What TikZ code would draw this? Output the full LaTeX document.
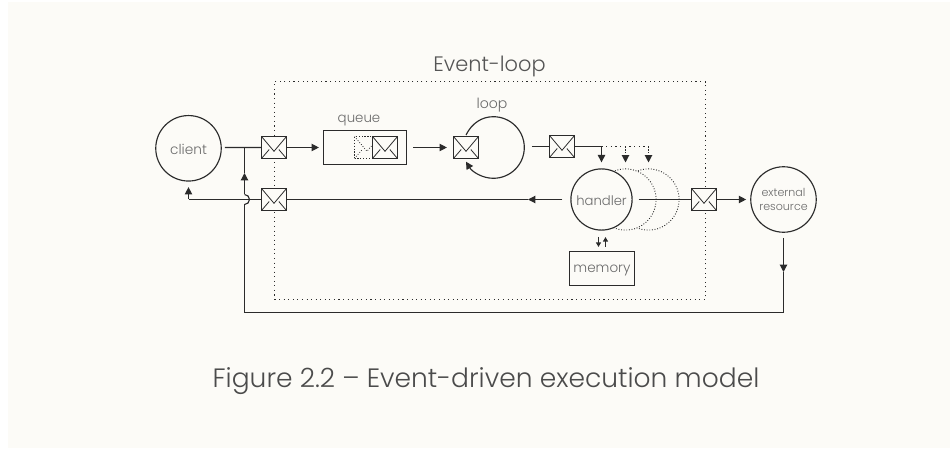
\documentclass[tikz,border=0pt]{standalone}
\usepackage{fontspec}
\setmainfont{Poppins Light}
\usetikzlibrary{arrows.meta, calc}
\definecolor{paper}{HTML}{FCFBF7}
\definecolor{ink}{HTML}{2B2B2B}
\definecolor{label}{HTML}{6A6A6A}
\tikzset{
    envelope/.style={draw=ink, #1, rectangle, line width=0.65pt, fill=paper, minimum width=0.5cm, minimum height=0.44cm, inner sep=0pt,
        path picture={
            \draw[ink, #1, line width=0.45pt] (path picture bounding box.north west) -- ($(path picture bounding box.center)+(0,-0.076cm)$) -- (path picture bounding box.north east);
            \draw[ink, #1, line width=0.45pt] (path picture bounding box.south west) -- ($(path picture bounding box.center)+(-0.096cm,-0.04cm)$);
            \draw[ink, #1, line width=0.45pt] (path picture bounding box.south east) -- ($(path picture bounding box.center)+(0.096cm,-0.04cm)$);
        }},
    envelope/.default=solid,
    place/.style={draw=ink, circle, line width=0.65pt, text=label, align=center, inner sep=0pt},
    ghost/.style={draw=ink, circle, densely dotted, fill=paper, line width=0.5pt, minimum size=1.224cm},
    store/.style={draw=ink, rectangle, line width=0.65pt, text=label, inner sep=0pt},
    wire/.style={draw=ink, line width=0.65pt},
    tip/.style={-{Triangle[length=4.2pt,width=4.2pt]}, wire},
    smalltip/.style={-{Triangle[length=2.6pt,width=2.8pt]}, wire},
}
\begin{document}
\begin{tikzpicture}[x=0.02cm, y=-0.02cm]
    \useasboundingbox (0,0) rectangle (950,449);
    \fill[white] (0,0) rectangle (950,449);
    \fill[paper] (8,2.5) rectangle (950,448);

    \node[draw=ink, dotted, line width=0.6pt, minimum width=8.62cm, minimum height=4.36cm, inner sep=0pt] (eventloop) at (490,190.5) {};
    \node[text=ink!80, font=\fontsize{11.9}{15}\selectfont] (eventlooplabel) at (489.5,66) {Event-loop};

    % the extra handlers sit behind the real one
    \foreach \x/\name in {648.5/ghostb, 625.5/ghosta} {
        \node[ghost] (\name) at (\x,199.5) {};
    }
    \node[place, fill=paper, minimum size=1.224cm, text height=7.4pt, text depth=0pt, font=\fontsize{7.5}{9}\selectfont] (handler) at (601.5,199.5) {handler};
    \node[place, minimum size=1.31cm, text height=7.6pt, text depth=0pt, font=\fontsize{7.8}{10}\selectfont] (client) at (188.5,148.3) {client};
    \node[place, minimum size=1.31cm, text height=12.8pt, font=\fontsize{6.3}{8}\selectfont] (external) at (783.5,199.5) {external\\resource};

    \node[store, minimum width=1.66cm, minimum height=0.68cm] (queuebox) at (365,147.5) {};
    \node[text=label, font=\fontsize{7.6}{10}\selectfont] (queuelabel) at (359,120.5) {queue};
    \node[store, minimum width=1.3cm, minimum height=0.68cm, text height=4pt, text depth=0pt, font=\fontsize{7.7}{10}\selectfont] (memory) at (602,268.5) {memory};
    \node[text=label, font=\fontsize{8}{10}\selectfont] (looplabel) at (492,105) {loop};

    \node[envelope=densely dotted] (queuedold) at (367,147.5) {};
    \node[envelope] (queued) at (385,147.5) {};
    \node[envelope] (inmsg) at (274,147.5) {};
    \node[envelope] (outmsg) at (274,199.5) {};
    \node[envelope] (loopmsg) at (466,147.5) {};
    \node[envelope] (nextmsg) at (562,146.5) {};
    \node[envelope] (callmsg) at (704,199.5) {};

    \coordinate (split) at (244.5,147.5);
    \coordinate (hopb) at (244.5,194.5);
    \coordinate (hopt) at (244.5,204.5);
    \coordinate (corner) at (244.5,312.5);
    \coordinate (turn) at (783.5,312.5);
    \coordinate (turnin) at (188.5,199.5);
    \coordinate (fork) at (601.5,146.5);
    \coordinate (forkend) at (648.5,146.5);

    % requests coming in
    \draw[wire] ($(client.east)+(3,-0.8)$) -- (inmsg);
    \draw[tip] (inmsg) -- ($(queuebox.west)+(-4,0)$);
    \draw[tip] ($(queuebox.east)+(6,0)$) -- ($(loopmsg.west)+(-6,0)$);
    \draw[wire] ($(loopmsg.east)+(52.7,-1)$) -- (nextmsg);
    \draw[wire] (nextmsg) -- (fork);
    \draw[tip] (fork) -- ($(handler.north)+(0,-6)$);
    \draw[wire, dotted] (fork) -- (forkend);
    \foreach \t/\name in {625.5/ghosta, 648.5/ghostb} {
        \draw[tip, densely dotted] (\t,146.5) -- ($(\name.north)+(0,-6)$);
    }

    % the loop itself
    \draw[tip] (466,135) .. controls (472,123) and (482,116.7) .. (493.3,116.7) .. controls (510.5,116.7) and (524.3,130.5) .. (524.3,147.5) .. controls (524.3,164.5) and (510.5,178.3) .. (493.3,178.3) .. controls (482,178.3) and (472,171.5) .. (466,161.7);

    % responses going out
    \draw[tip] ($(handler.west)+(-8,0)$) -- (528,199.5);
    \draw[wire] (528,199.5) -- (outmsg);
    \draw[wire] (outmsg) -- (turnin);
    \draw[tip] (turnin) -- ($(client.south)+(0,5.5)$);
    \draw[wire] ($(handler.east)+(6,0)$) -- (callmsg);
    \draw[tip] (callmsg) -- ($(external.west)+(-4,0)$);

    % memory access
    \draw[smalltip] (598.5,237) -- (598.5,247);
    \draw[smalltip] (605.5,247) -- (605.5,237);

    % callback back to the loop
    \draw[wire] (783.5,272) -- (turn) -- (corner) -- (hopt);
    \draw[wire] (hopt) arc (90:-90:5);
    \draw[tip] (hopb) -- (244.5,173);
    \draw[wire] (244.5,173) -- (split);
    \draw[tip] ($(external.south)+(0,5)$) -- (783.5,272);

    \node[text=ink!85, font=\fontsize{15.1}{20}\selectfont] (caption) at (486,381) {Figure 2.2 – Event-driven execution model};
\end{tikzpicture}
\end{document}
